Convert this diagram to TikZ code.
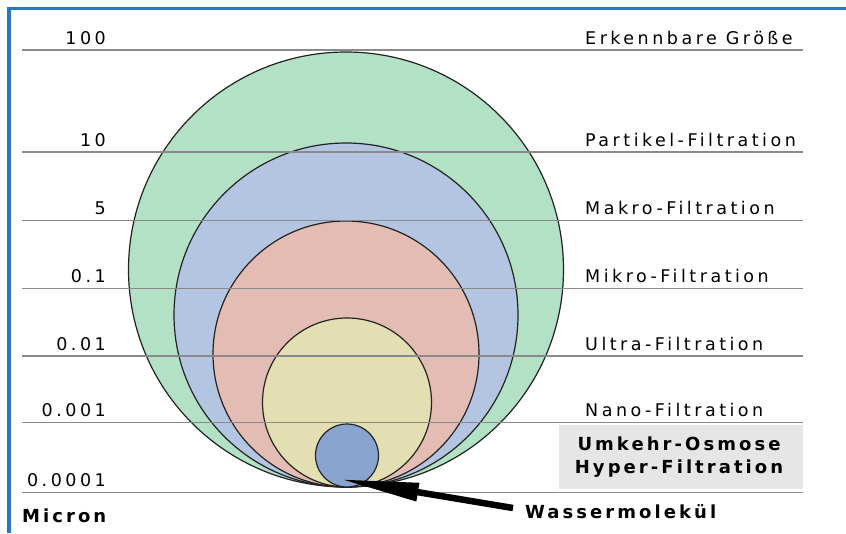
\documentclass[tikz,border=0pt]{standalone}
\usepackage{fontspec}
\setmainfont{DejaVu Sans}
\newfontfamily\labfont{DejaVu Sans}[LetterSpace=20]
\newfontfamily\labbold{DejaVu Sans Bold}[LetterSpace=17]
\usetikzlibrary{arrows.meta}
\definecolor{bordblue}{HTML}{2A78C0}
\definecolor{cgreen}{HTML}{B3E1C6}
\definecolor{cblue}{HTML}{B4C5E2}
\definecolor{cpink}{HTML}{E3BDB3}
\definecolor{cyellow}{HTML}{E3DFB2}
\definecolor{cmol}{HTML}{8AA4D0}
\definecolor{boxgray}{HTML}{E6E6E6}
\definecolor{linegray}{HTML}{8A8A8A}
\definecolor{outl}{HTML}{222222}
\begin{document}
\begin{tikzpicture}[x=1pt,y=-1pt,
  circ/.style={draw=outl,line width=1.2pt},
  scaleline/.style={draw=linegray,line width=1.6pt},
  leftlab/.style={anchor=base east,inner sep=0pt,font=\labfont\fontsize{17.5}{20}\selectfont},
  rightlab/.style={anchor=base west,inner sep=0pt,font=\labfont\fontsize{17.5}{20}\selectfont},
  boldlab/.style={inner sep=0pt,font=\labbold\fontsize{18}{23}\selectfont}]
\useasboundingbox (0,0) rectangle (846,533);
\fill[white] (0,0) rectangle (846,533);
% border
\draw[bordblue,line width=3.5pt] (9,533) -- (9,8.5) -- (846,8.5);
% circles
\filldraw[circ,fill=cgreen] (346,269.5) circle[radius=217.5];
\filldraw[circ,fill=cblue] (346,315) circle[radius=172];
\filldraw[circ,fill=cpink] (346,354) circle[radius=133];
\filldraw[circ,fill=cyellow] (347,402.5) circle[radius=84.5];
\filldraw[circ,fill=cmol] (347,455.5) circle[radius=31.5];
% scale lines
\foreach \yy in {50,152,220.5,288.5,356,422.5,492.5}
  \draw[scaleline] (22,\yy) -- (803,\yy);
% gray box
\fill[boxgray] (559,425) rectangle (803,489);
% left labels
\node[leftlab] (l100) at (106,44) {100};
\node[leftlab] (l10) at (106,146) {10};
\node[leftlab] (l5) at (106,214) {5};
\node[leftlab] (l01) at (106,282) {0.1};
\node[leftlab] (l001) at (106,350) {0.01};
\node[leftlab] (l0001) at (106,416) {0.001};
\node[leftlab] (l00001) at (106,486) {0.0001};
\node[boldlab,anchor=base west] (micron) at (22,522) {Micron};
% right labels
\node[rightlab] (r1) at (585,44) {Erkennbare Größe};
\node[rightlab] (r2) at (585,146) {Partikel-Filtration};
\node[rightlab] (r3) at (585,214) {Makro-Filtration};
\node[rightlab] (r4) at (585,282) {Mikro-Filtration};
\node[rightlab] (r5) at (585,350) {Ultra-Filtration};
\node[rightlab] (r6) at (585,416) {Nano-Filtration};
\node[boldlab,align=center] (ro) at (679,457) {Umkehr-Osmose\\Hyper-Filtration};
\node[boldlab,anchor=base west] (wasser) at (525,518) {Wassermolekül};
% arrow
\coordinate (tail) at (513,508);
\coordinate (tip) at (339,479);
\draw[black,line width=6.5pt,-{Triangle[length=80pt,width=17pt]}] (tail) -- (tip);
\end{tikzpicture}
\end{document}
